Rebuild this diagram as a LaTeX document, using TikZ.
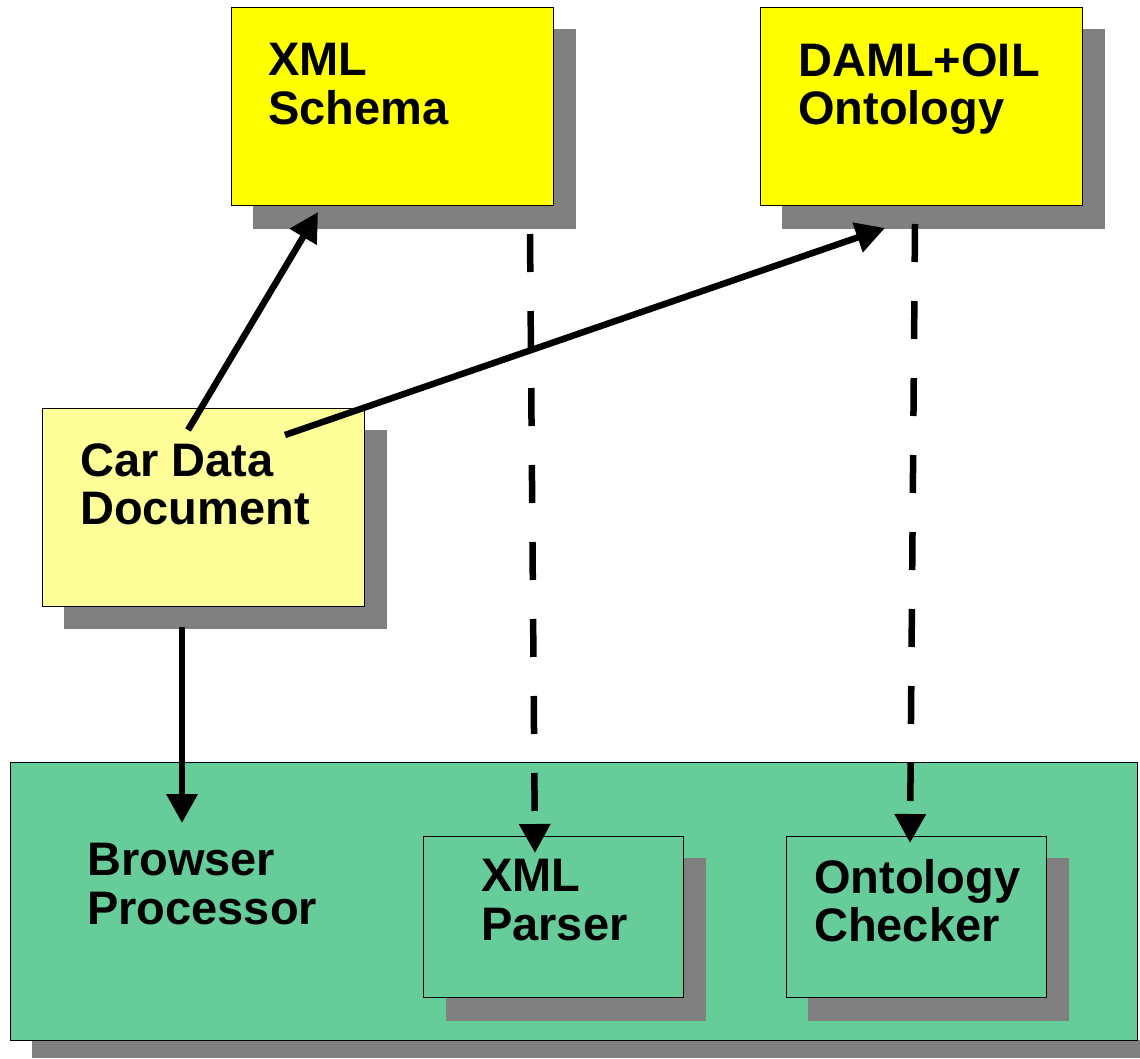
\documentclass[tikz,border=0pt]{standalone}
\usepackage{fontspec}
\setmainfont{Liberation Sans}
\usetikzlibrary{arrows.meta}
\definecolor{ylw}{HTML}{FFFF00}
\definecolor{lylw}{HTML}{FFFF99}
\definecolor{grn}{HTML}{66CC99}
\definecolor{shd}{HTML}{808080}
\begin{document}
\begin{tikzpicture}[x=1pt,y=-1pt,
  shadowbox/.style={fill=shd,draw=none},
  box/.style={draw=black,line width=1pt,anchor=north west,inner sep=0pt},
  lbl/.style={anchor=north west,inner sep=0pt,align=left,font=\bfseries\fontsize{47}{48.5}\selectfont},
  solidarrow/.style={line width=6.5pt,-{Triangle[length=29pt,width=30pt]}},
  dasharrow/.style={line width=6.5pt,dash pattern=on 38pt off 39pt,-{Triangle[length=29pt,width=30pt]}}]
\useasboundingbox (0,0) rectangle (1140,1058);
% shadows
\fill[shd] (253,29) rectangle (576,229);
\fill[shd] (782,29) rectangle (1105,229);
\fill[shd] (64,430) rectangle (387,629);
\fill[shd] (32,1040) rectangle (1140,1058);
% boxes
\node[box,fill=ylw,minimum width=322pt,minimum height=198pt] (xs) at (231,7) {};
\node[box,fill=ylw,minimum width=322pt,minimum height=198pt] (do) at (760,7) {};
\node[box,fill=lylw,minimum width=322pt,minimum height=198pt] (cd) at (42,408) {};
\node[box,fill=grn,minimum width=1127pt,minimum height=278pt] (bp) at (10,762) {};
\fill[shd] (446,858) rectangle (706,1021);
\fill[shd] (808,858) rectangle (1069,1021);
\node[box,fill=grn,minimum width=260pt,minimum height=161pt] (xp) at (423,836) {};
\node[box,fill=grn,minimum width=260pt,minimum height=161pt] (oc) at (786,836) {};
% labels
\node[lbl] (xsl) at (268,43) {XML\\Schema};
\node[lbl] (dol) at (798,43) {DAML+OIL\\Ontology};
\node[lbl] (cdl) at (80,443) {Car Data\\Document};
\node[lbl] (bpl) at (87,843) {Browser\\Processor};
\node[lbl] (xpl) at (481,859) {XML\\Parser};
\node[lbl] (ocl) at (814,859) {Ontology\\Checker};
% connector endpoints
\coordinate (a1s) at (188,430);
\coordinate (a1e) at (318,212);
\coordinate (a2s) at (285,435);
\coordinate (a2e) at (885,228);
\coordinate (a3s) at (182,627);
\coordinate (a3e) at (182,823);
\coordinate (d1s) at (530,234);
\coordinate (d1e) at (535,853);
\coordinate (d2s) at (915,224);
\coordinate (d2e) at (910,843);
\draw[solidarrow] (a1s) -- (a1e);
\draw[solidarrow] (a2s) -- (a2e);
\draw[solidarrow] (a3s) -- (a3e);
\draw[dasharrow] (d1s) -- (d1e);
\draw[dasharrow] (d2s) -- (d2e);
\end{tikzpicture}
\end{document}
